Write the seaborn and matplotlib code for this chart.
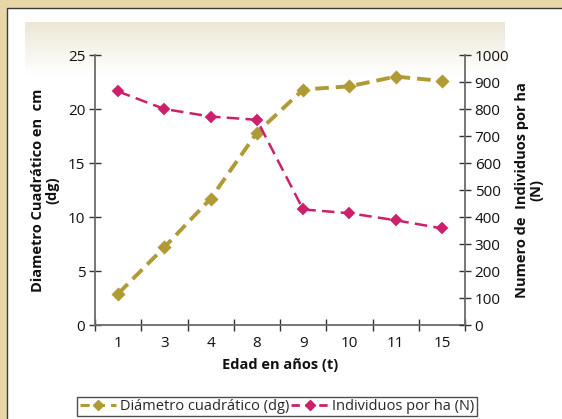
import numpy as np
import pandas as pd
import matplotlib
matplotlib.use("Agg")
import matplotlib.pyplot as plt
from matplotlib.lines import Line2D
from matplotlib.patches import Rectangle
import seaborn as sns

# Stand data by age
edades = ["1", "3", "4", "8", "9", "10", "11", "15"]
diametro_dg = [2.9, 7.2, 11.7, 17.8, 21.8, 22.1, 23.0, 22.6]
individuos_n = [865, 800, 772, 760, 428, 414, 388, 358]

y_left_ticks = [0, 5, 10, 15, 20, 25]
y_right_ticks = [0, 100, 200, 300, 400, 500, 600, 700, 800, 900, 1000]

gold = "#B09A36"
pink = "#CC1F6C"
axis_gray = "#6b6b6b"

sns.set_theme(style="white")
plt.rcParams["font.family"] = ["Open Sans", "DejaVu Sans"]

df = pd.DataFrame({"edad": edades, "dg": diametro_dg, "n": individuos_n})

fig = plt.figure(figsize=(5.62, 4.19), dpi=100)
fig.patch.set_facecolor("#E8D8A9")

# white panel with dark border
panel = Rectangle((7 / 562, -0.1), 1.2, 1 - 8 / 419 + 0.1, transform=fig.transFigure,
                  facecolor="white", edgecolor="#3a3a3a", linewidth=1.0, zorder=0)
fig.add_artist(panel)

# soft beige gradient at the top of the chart area
grad_ax = fig.add_axes([25 / 562, 1 - 75 / 419, 480 / 562, 53 / 419], zorder=0.5)
g = np.linspace(0, 1, 100)[:, None]
top = np.array([236, 231, 214]) / 255.0
bot = np.array([255, 255, 255]) / 255.0
img = top[None, None, :] * (1 - g[:, :, None]) + bot[None, None, :] * g[:, :, None]
grad_ax.imshow(img, aspect="auto", extent=[0, 1, 0, 1])
grad_ax.axis("off")

ax = fig.add_axes([95 / 562, 1 - 325 / 419, 370 / 562, 270 / 419], zorder=1)
ax.patch.set_alpha(0)

sns.pointplot(data=df, x="edad", y="dg", order=edades, ax=ax, color=gold,
              markers="D", linestyles="--", markersize=5.5, linewidth=2.8,
              errorbar=None)
for ln in ax.lines:
    ln.set_dashes([3.5, 1.8])

ax2 = ax.twinx()
sns.pointplot(data=df, x="edad", y="n", order=edades, ax=ax2, color=pink,
              markers="D", linestyles="--", markersize=5.5, linewidth=1.8,
              errorbar=None)
for ln in ax2.lines:
    ln.set_dashes([5, 2.5])

ax.set_xlim(-0.5, len(edades) - 0.5)
ax.set_ylim(0, 25)
ax2.set_ylim(0, 1000)
ax.set_yticks(y_left_ticks)
ax2.set_yticks(y_right_ticks)
ax.set_xticks(np.arange(len(edades) + 1) - 0.5, minor=False)
ax.set_xticklabels([])
ax.set_xticks(np.arange(len(edades)), minor=True)
ax.set_xticklabels(edades, minor=True)

for a in (ax, ax2):
    for s in a.spines.values():
        s.set_visible(False)
ax.spines["left"].set_visible(True)
ax.spines["bottom"].set_visible(True)
ax2.spines["right"].set_visible(True)
for s in (ax.spines["left"], ax.spines["bottom"], ax2.spines["right"]):
    s.set_color(axis_gray)
    s.set_linewidth(1.3)

ax.tick_params(axis="y", direction="inout", length=8, width=1, color="#333333",
               labelsize=11, labelcolor="#111111", pad=3, left=True)
ax.tick_params(axis="x", which="major", direction="inout", length=8, width=1,
               color="#333333", bottom=True)
ax.tick_params(axis="x", which="minor", length=0, labelsize=11,
               labelcolor="#111111", pad=8, bottom=True)
ax2.tick_params(axis="y", direction="inout", length=8, width=1, color="#333333",
                labelsize=11, labelcolor="#111111", pad=3, right=True)

ax.set_xlabel("Edad en años (t)", fontsize=10.5, fontweight="bold", labelpad=5, color="#111111")
ax.set_ylabel("Diametro Cuadrático en  cm\n(dg)", fontsize=10.5, fontweight="bold",
              color="#111111", labelpad=6, linespacing=1.05)
ax2.set_ylabel("Numero de  Individuos por ha\n(N)", fontsize=10.5, fontweight="bold",
               color="#111111", labelpad=4, linespacing=1.05, rotation=90)
ax.grid(False)
ax2.grid(False)

handles = [
    Line2D([], [], color=gold, linestyle=(0, (3, 2)), linewidth=2.2, marker="D",
           markersize=5),
    Line2D([], [], color=pink, linestyle=(0, (3, 2)), linewidth=2.0, marker="D",
           markersize=5),
]
leg = fig.legend(handles, ["Diámetro cuadrático (dg)", "Individuos por ha (N)"],
                 loc="upper center", bbox_to_anchor=(277 / 562, 1 - 397 / 419),
                 ncol=2, fontsize=10.5, frameon=True, fancybox=False,
                 handlelength=2.5, handletextpad=0.3, columnspacing=0.1,
                 borderpad=0.15, borderaxespad=0)
leg.get_frame().set_edgecolor("#222222")
leg.get_frame().set_linewidth(1.0)

fig.savefig("out.png", dpi=100)
